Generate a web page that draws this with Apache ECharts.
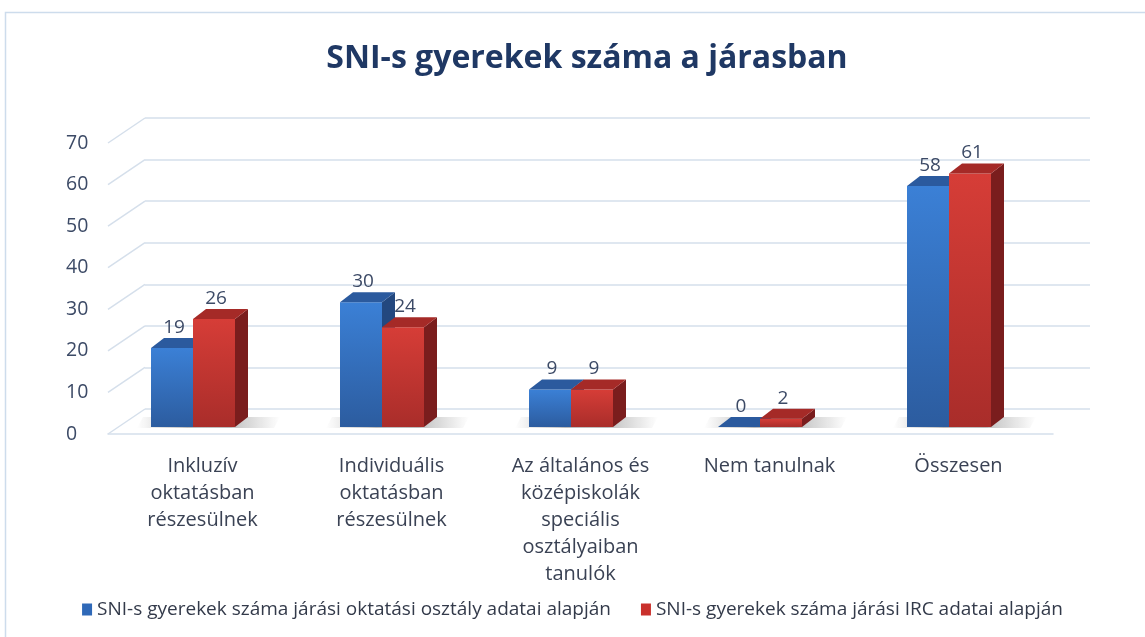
<!DOCTYPE html>
<html>
<head>
<meta charset="utf-8">
<script src="https://cdn.jsdelivr.net/npm/echarts@6/dist/echarts.min.js"></script>
<style>
html, body { margin: 0; padding: 0; background: #fff; }
#chart { width: 1145px; height: 637px; }
</style>
</head>
<body>
<div id="chart"></div>
<script>
// adatok
const categories = [
    'Inkluzív\noktatásban\nrészesülnek',
    'Individuális\noktatásban\nrészesülnek',
    'Az általános és\nközépiskolák\nspeciális\nosztályaiban\ntanulók',
    'Nem tanulnak',
    'Összesen'
];
const oktatasiValues = [19, 30, 9, 0, 58];
const ircValues = [26, 24, 9, 2, 61];
const yTicks = [0, 10, 20, 30, 40, 50, 60, 70];
const seriesNames = [
    'SNI-s gyerekek száma járási oktatási osztály adatai alapján',
    'SNI-s gyerekek száma járási IRC adatai alapján'
];

const FONT = '"Open Sans"';
const WALL_DX = 37, WALL_DY = -25;   // hátfal eltolása
const BAR_DX = 13, BAR_DY = -10;     // oszlop mélysége
const BAR_W = 42, BAR_LIFT = -7;

const palettes = [
    { front: ['#3b80d6', '#2c5c9f'], top: '#2b5a9e', side: '#23487f' },
    { front: ['#d63d37', '#a92d2a'], top: '#a52a27', side: '#7a1d1d' }
];

function makeBarRenderer(idx, offset) {
    return function (params, api) {
        const cat = api.value(0), val = api.value(1);
        const base = api.coord([cat, 0]);
        const top = api.coord([cat, val]);
        const x0 = base[0] + offset;
        const y0 = base[1] + BAR_LIFT;
        const y1 = top[1] + BAR_LIFT;
        const w = BAR_W;
        const p = palettes[idx];
        const zb = 10 + idx * 10;
        return {
            type: 'group',
            children: [{
                type: 'polygon',
                z2: 1,
                shape: { points: [[x0 - 14, y0 + 1], [x0 + w + BAR_DX + 26, y0 + 1], [x0 + w + BAR_DX + 32, y0 + BAR_DY], [x0 - 8, y0 + BAR_DY]] },
                style: {
                    fill: new echarts.graphic.LinearGradient(0, 0, 1, 0, [
                        { offset: 0, color: 'rgba(90,90,90,0)' },
                        { offset: 0.5, color: 'rgba(90,90,90,0.38)' },
                        { offset: 1, color: 'rgba(90,90,90,0)' }
                    ])
                }
            }, {
                type: 'polygon',
                z2: zb,
                shape: { points: [[x0 + w, y1], [x0 + w + BAR_DX, y1 + BAR_DY], [x0 + w + BAR_DX, y0 + BAR_DY], [x0 + w, y0]] },
                style: { fill: p.side }
            }, {
                type: 'rect',
                z2: zb + 1,
                shape: { x: x0, y: y1, width: w, height: y0 - y1 },
                style: {
                    fill: new echarts.graphic.LinearGradient(0, 0, 0, 1, [
                        { offset: 0, color: p.front[0] },
                        { offset: 1, color: p.front[1] }
                    ])
                }
            }, {
                type: 'polygon',
                z2: zb + 1,
                shape: { points: [[x0, y1], [x0 + w, y1], [x0 + w + BAR_DX, y1 + BAR_DY], [x0 + BAR_DX, y1 + BAR_DY]] },
                style: { fill: p.top }
            }, {
                type: 'text',
                z2: 50,
                style: {
                    text: String(val),
                    x: x0 + w / 2 + 2,
                    y: y1 - 11,
                    align: 'center',
                    verticalAlign: 'bottom',
                    fill: '#3c4a66',
                    font: '19px ' + FONT
                }
            }]
        };
    };
}

function renderWall(params, api) {
    const v = api.value(0);
    const x = params.coordSys.x;
    const y = api.coord([0, v])[1];
    return {
        type: 'line',
        shape: { x1: x, y1: y, x2: x + WALL_DX, y2: y + WALL_DY },
        style: { stroke: '#d5dfeb', lineWidth: 1.5 }
    };
}

const myChart = echarts.init(document.getElementById('chart'));
myChart.setOption({
    animation: false,
    title: {
        text: 'SNI-s gyerekek száma a járasban',
        left: 582,
        textAlign: 'center',
        top: 38,
        textStyle: { fontFamily: FONT, fontSize: 32, fontWeight: 'bold', color: '#1f3864' }
    },
    graphic: [{
        type: 'rect',
        shape: { x: 5.5, y: 12.5, width: 1160, height: 640 },
        style: { fill: 'none', stroke: '#cddcec', lineWidth: 1.5 },
        silent: true
    }],
    legend: {
        bottom: 13,
        left: 'center',
        icon: 'rect',
        itemWidth: 10,
        itemHeight: 12,
        itemGap: 30,
        itemTextGap: 4,
        textStyle: { fontFamily: FONT, fontSize: 19, color: '#333a4a' },
        data: seriesNames
    },
    grid: [
        { left: 108, right: 92, top: 143, height: 291 },   // elülső sík
        { left: 145, right: 55, top: 118, height: 291 }    // hátfal
    ],
    xAxis: [{
        type: 'category',
        gridIndex: 0,
        data: categories,
        axisTick: { show: false },
        axisLine: { lineStyle: { color: '#d5dfeb', width: 1.5 } },
        axisLabel: {
            interval: 0,
            margin: 19,
            fontFamily: FONT,
            fontSize: 20,
            lineHeight: 27,
            color: '#3a4254'
        }
    }, {
        type: 'category',
        gridIndex: 1,
        data: categories,
        show: false
    }],
    yAxis: [{
        type: 'value',
        gridIndex: 0,
        min: 0,
        max: 70,
        interval: 10,
        splitLine: { show: false },
        axisLine: { show: false },
        axisTick: { show: false },
        axisLabel: {
            align: 'left',
            margin: 42,
            fontFamily: FONT,
            fontSize: 19.5,
            color: '#3c4a66'
        }
    }, {
        type: 'value',
        gridIndex: 1,
        min: 0,
        max: 70,
        interval: 10,
        axisLine: { show: false },
        axisTick: { show: false },
        axisLabel: { show: false },
        splitLine: { lineStyle: { color: '#d5dfeb', width: 1.5 } }
    }],
    series: [{
        type: 'custom',
        name: 'wall',
        xAxisIndex: 0,
        yAxisIndex: 0,
        silent: true,
        renderItem: renderWall,
        data: yTicks.map(v => [v]),
        encode: { y: 0 }
    }, {
        type: 'custom',
        name: seriesNames[0],
        xAxisIndex: 0,
        yAxisIndex: 0,
        itemStyle: { color: '#2f69b8' },
        renderItem: makeBarRenderer(0, -51.5),
        data: oktatasiValues.map((v, i) => [i, v]),
        encode: { x: 0, y: 1 }
    }, {
        type: 'custom',
        name: seriesNames[1],
        xAxisIndex: 0,
        yAxisIndex: 0,
        itemStyle: { color: '#c9302c' },
        renderItem: makeBarRenderer(1, -9.5),
        data: ircValues.map((v, i) => [i, v]),
        encode: { x: 0, y: 1 }
    }]
});
</script>
</body>
</html>
